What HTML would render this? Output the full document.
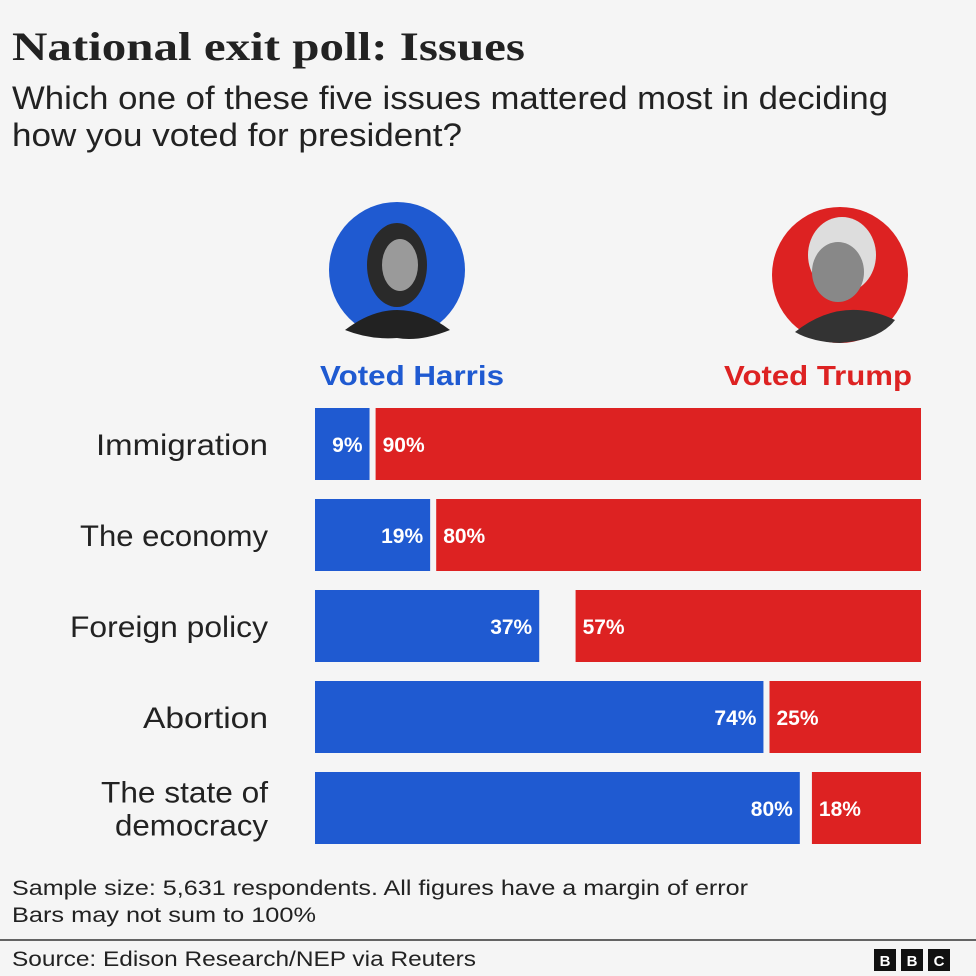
<!DOCTYPE html>
<html><head><meta charset="utf-8"><style>
body{margin:0;background:#f5f5f5;width:976px;height:976px;overflow:hidden;font-family:"Liberation Sans",sans-serif;}
</style></head><body>
<svg width="976" height="976" style="position:absolute;left:0;top:0">
<rect width="976" height="976" fill="#f5f5f5"/>
<text x="12" y="60" font-family="Liberation Serif,serif" font-weight="bold" font-size="40" fill="#222" textLength="513" lengthAdjust="spacingAndGlyphs">National exit poll: Issues</text>
<text x="12" y="109" font-size="32" fill="#222" textLength="876" lengthAdjust="spacingAndGlyphs">Which one of these five issues mattered most in deciding</text>
<text x="12" y="146" font-size="32" fill="#222" textLength="450" lengthAdjust="spacingAndGlyphs">how you voted for president?</text>
<g>
<circle cx="397" cy="270" r="68" fill="#1f5ad1"/>
<ellipse cx="397" cy="265" rx="30" ry="42" fill="#2a2a2a"/>
<ellipse cx="400" cy="265" rx="18" ry="26" fill="#9a9a9a"/>
<path d="M345 330 Q397 290 450 330 Q420 342 397 338 Q370 340 345 330Z" fill="#222"/>
</g>
<g>
<circle cx="840" cy="275" r="68" fill="#dd2222"/>
<ellipse cx="842" cy="255" rx="34" ry="38" fill="#ddd"/>
<ellipse cx="838" cy="272" rx="26" ry="30" fill="#888"/>
<path d="M795 332 Q842 295 895 320 Q880 340 840 343 Q812 342 795 332Z" fill="#333"/>
</g>
<text x="320" y="385" font-size="28" font-weight="bold" fill="#1f5ad1" textLength="184" lengthAdjust="spacingAndGlyphs">Voted Harris</text>
<text x="724" y="385" font-size="28" font-weight="bold" fill="#dd2222" textLength="188" lengthAdjust="spacingAndGlyphs">Voted Trump</text>
<g id="bars"></g>
<text x="12" y="895" font-size="21" fill="#222" textLength="736" lengthAdjust="spacingAndGlyphs">Sample size: 5,631 respondents. All figures have a margin of error</text>
<text x="12" y="922" font-size="21" fill="#222" textLength="304" lengthAdjust="spacingAndGlyphs">Bars may not sum to 100%</text>
<line x1="0" y1="940" x2="976" y2="940" stroke="#333" stroke-width="1.5"/>
<text x="12" y="966" font-size="21" fill="#222" textLength="464" lengthAdjust="spacingAndGlyphs">Source: Edison Research/NEP via Reuters</text>
<g font-weight="bold" font-size="15" fill="#fff" text-anchor="middle">
<rect x="874" y="949" width="22" height="22" fill="#111"/><text x="885" y="966">B</text>
<rect x="901" y="949" width="22" height="22" fill="#111"/><text x="912" y="966">B</text>
<rect x="928" y="949" width="22" height="22" fill="#111"/><text x="939" y="966">C</text>
</g>
</svg>
<script>
const categories=[["Immigration"],["The economy"],["Foreign policy"],["Abortion"],["The state of","democracy"]];
const harris=[9,19,37,74,80];
const trump=[90,80,57,25,18];
const labelWidths={"Immigration":172,"The economy":188,"Foreign policy":198,"Abortion":125,"The state of":167,"democracy":153};
const NS="http://www.w3.org/2000/svg";
const x0=315,x1=921,top0=408,pitch=91,bh=72;
const xs=v=>v/100*(x1-x0);
const g=document.getElementById('bars');
function mk(t,a){const e=document.createElementNS(NS,t);for(const k in a)e.setAttribute(k,a[k]);g.appendChild(e);return e;}
categories.forEach((c,i)=>{
 const y=top0+i*pitch;
 const hw=xs(harris[i]),tw=xs(trump[i]);
 const hb=mk('rect',{x:x0,y:y,width:hw,height:bh,fill:'#1f5ad1'});
 
 
 const tb=mk('rect',{x:x1-tw,y:y,width:tw,height:bh,fill:'#dd2222'});
 
 
 const ht=mk('text',{x:x0+hw-7,y:y+bh/2+8,'font-size':21,'font-weight':'bold',fill:'#fff','text-anchor':'end'});
 ht.textContent=harris[i]+'%';
 
 
 const tt=mk('text',{x:x1-tw+7,y:y+bh/2+8,'font-size':21,'font-weight':'bold',fill:'#fff'});
 tt.textContent=trump[i]+'%';
 
 
 const n=c.length;
 c.forEach((s,j)=>{
  const w=labelWidths[s];
  const l=mk('text',{x:268-w,y:y+bh/2+11+(j-(n-1)/2)*33,'font-size':30,fill:'#222',textLength:w,lengthAdjust:'spacingAndGlyphs'});
  l.textContent=s;
  
  
 });
});
</script>
</body></html>
